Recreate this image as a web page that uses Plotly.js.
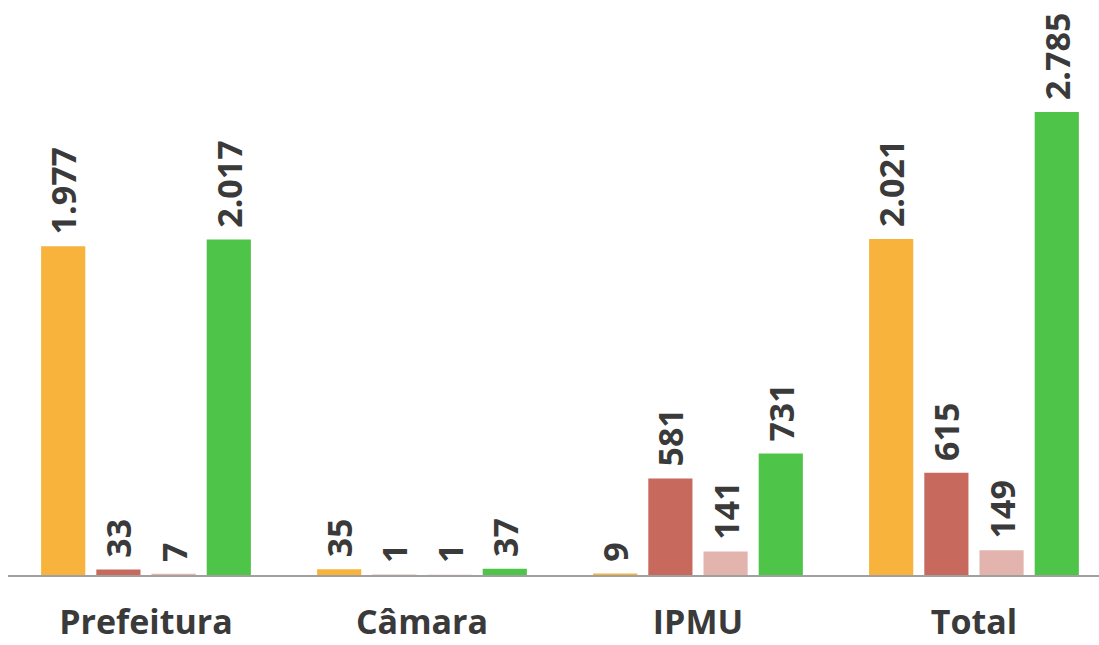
<!DOCTYPE html>
<html>
<head>
<meta charset="utf-8">
<script src="https://cdn.plot.ly/plotly-3.0.1.min.js"></script>
<style>html,body{margin:0;padding:0;background:#fff;}#chart{width:1099px;height:645px;}</style>
</head>
<body>
<div id="chart"></div>
<script>
const categories = ["Prefeitura", "Câmara", "IPMU", "Total"];
const seriesNames = ["Ativos", "Aposentados", "Pensionistas", "Total"];
const ativos = [1977, 35, 9, 2021];
const aposentados = [33, 1, 581, 615];
const pensionistas = [7, 1, 141, 149];
const totais = [2017, 37, 731, 2785];
const colors = ["#F8B33C", "#C76A5D", "#E3B4AE", "#4EC548"];

const values = [ativos, aposentados, pensionistas, totais];
const traces = values.map((v, i) => ({
  type: "bar",
  name: seriesNames[i],
  x: categories,
  y: v,
  marker: {color: colors[i]},
  texttemplate: "\u00a0%{y:,}",
  textposition: "outside",
  textangle: -90,
  constraintext: "none",
  cliponaxis: false,
  textfont: {family: "Open Sans", size: 34, color: "#3a3a3a", weight: "bold"},
  hoverinfo: "skip"
}));

const layout = {
  width: 1099, height: 645,
  margin: {l: 8, r: 0, t: 0, b: 70},
  paper_bgcolor: "#fff", plot_bgcolor: "#fff",
  showlegend: false,
  separators: ",.",
  barmode: "group",
  bargap: 0.2,
  bargroupgap: 0.2,
  xaxis: {
    type: "category",
    range: [-0.5, 3.453],
    showline: true, linecolor: "#a0a0a0", linewidth: 2,
    showgrid: false, zeroline: false, ticks: "",
    ticklabelstandoff: 16,
    tickfont: {family: "Open Sans", size: 34, color: "#3a3a3a", weight: "bold"}
  },
  yaxis: {
    range: [0, 3458],
    visible: false, showgrid: false, zeroline: false
  }
};
Plotly.newPlot("chart", traces, layout, {staticPlot: true});
</script>
</body>
</html>
